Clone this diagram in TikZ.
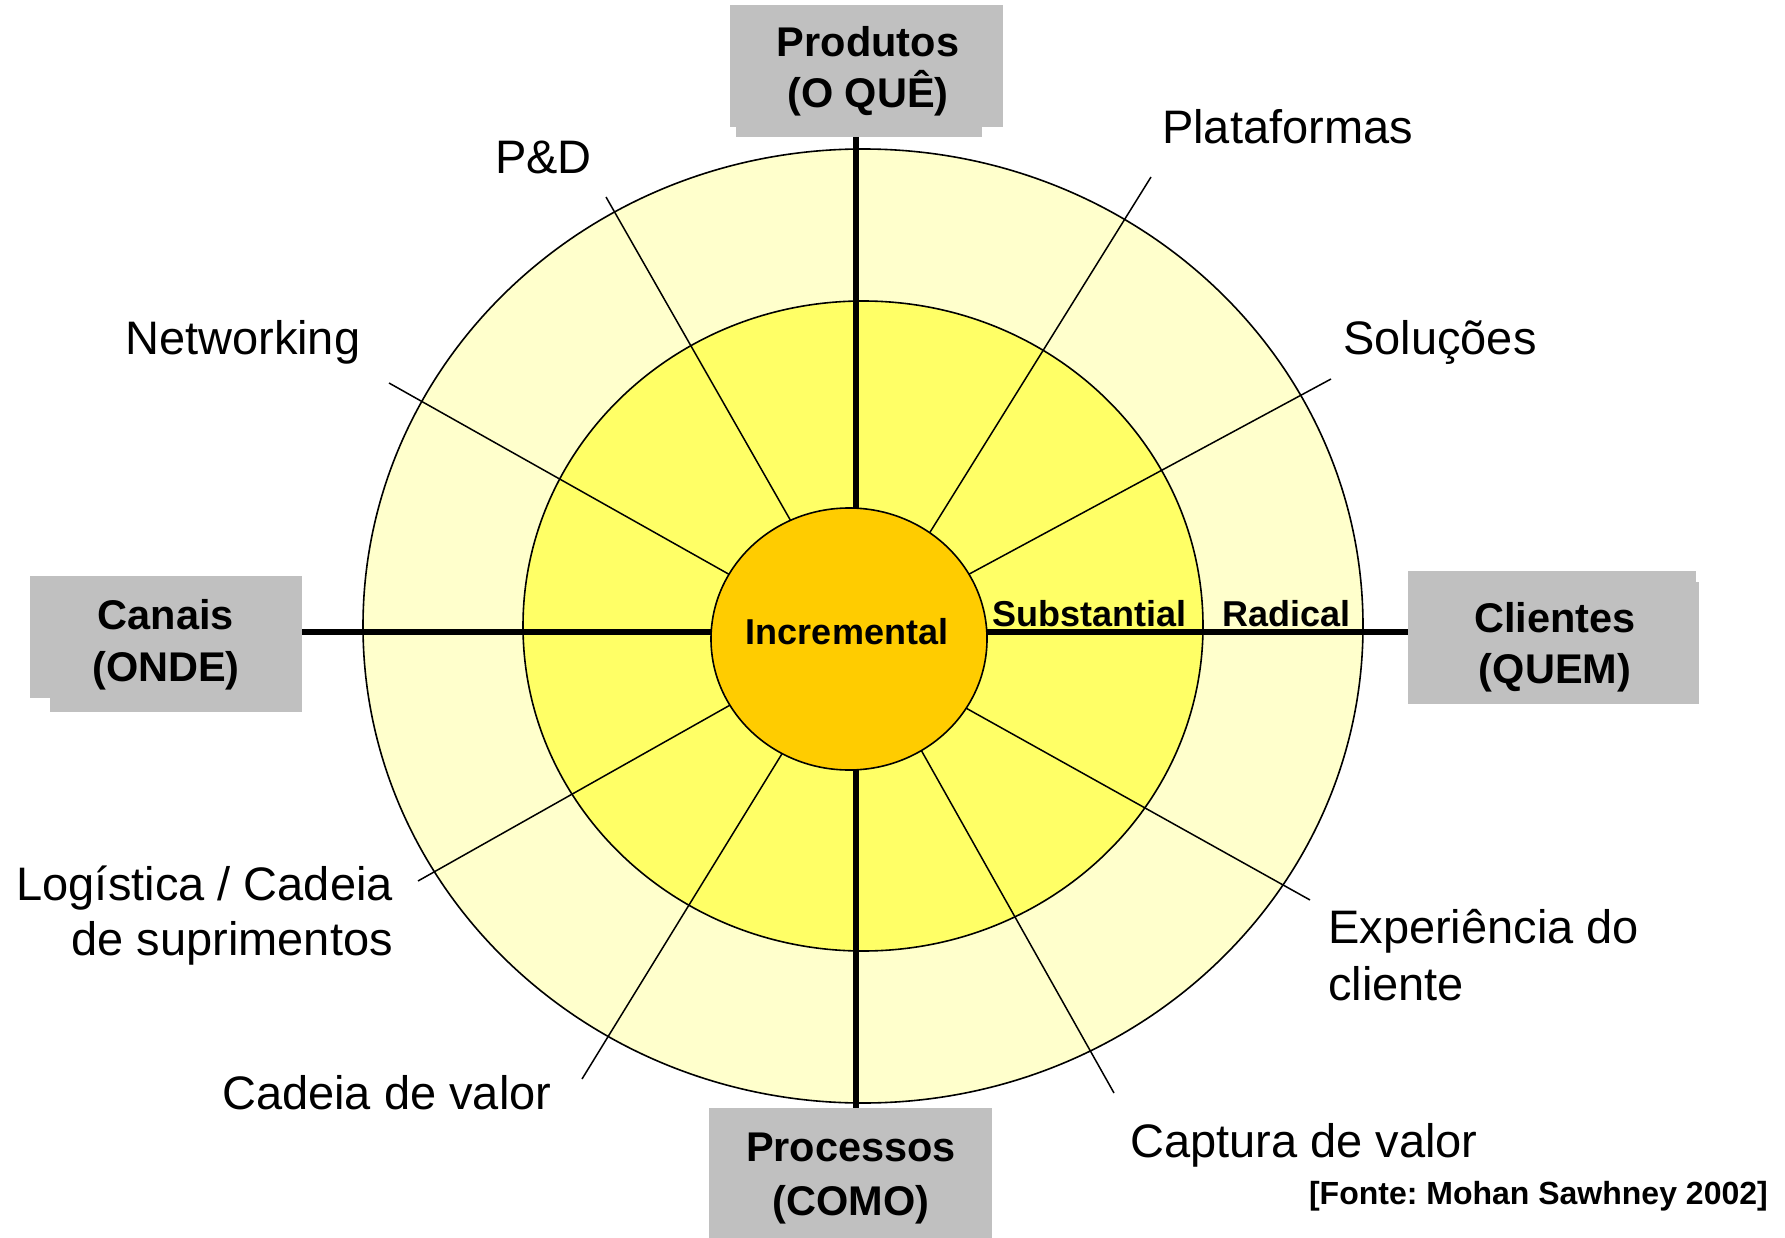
\documentclass[tikz,border=0pt]{standalone}
\usepackage{fontspec}
\setmainfont{Liberation Sans}
\usetikzlibrary{shapes.geometric,calc}
\frenchspacing
\definecolor{ringout}{HTML}{FFFFCC}
\definecolor{ringmid}{HTML}{FFFF66}
\definecolor{coreor}{HTML}{FFCC00}
\definecolor{boxgray}{HTML}{C0C0C0}
\tikzset{
  ringline/.style={draw=black, line width=1.6pt},
  spoke/.style={draw=black, line width=1.5pt},
  axisline/.style={draw=black, line width=5.5pt},
  boxfill/.style={fill=boxgray, draw=none, inner sep=0pt, anchor=north west},
  head/.style={font=\fontsize{41.5}{50}\selectfont\bfseries, inner sep=0pt, anchor=base},
  lab/.style={font=\fontsize{47}{56}\selectfont, inner sep=0pt},
  lvl/.style={font=\fontsize{36}{43}\selectfont\bfseries, inner sep=0pt},
  src/.style={font=\fontsize{32}{38}\selectfont\bfseries, inner sep=0pt, anchor=base east}
}
\begin{document}
\begin{tikzpicture}[x=1pt,y=-1pt]
\useasboundingbox[fill=white] (0,0) rectangle (1785,1238);

% rings
\draw[ringline, fill=ringout] (863,626) ellipse [x radius=500pt, y radius=477pt];
\draw[ringline, fill=ringmid] (863,626) ellipse [x radius=340pt, y radius=325pt];

% thin spokes (outer free end, inner end under the core)
\coordinate (pdO) at (606,197);   \coordinate (pdI) at (792,523);
\coordinate (plO) at (1151,177);  \coordinate (plI) at (932,529);
\coordinate (soO) at (1331,379);  \coordinate (soI) at (973,572);
\coordinate (nwO) at (389,383);   \coordinate (nwI) at (732,576);
\coordinate (lgO) at (418,881);   \coordinate (lgI) at (732,704);
\coordinate (exO) at (1310,900);  \coordinate (exI) at (973,712);
\coordinate (cvO) at (582,1079);  \coordinate (cvI) at (780,757);
\coordinate (cpO) at (1114,1093); \coordinate (cpI) at (925,757);
\foreach \s in {pd,pl,so,nw,lg,ex,cv,cp}{
  \draw[spoke] (\s O) -- ($(\s I)!-35pt!(\s O)$);
}

% boxes (shadow + main)
\fill[boxgray] (736,20) rectangle (982,137);
\node[boxfill, minimum width=273pt, minimum height=122pt] (prodbox) at (730,5) {};
\fill[boxgray] (50,590) rectangle (302,712);
\node[boxfill, minimum width=272pt, minimum height=122pt] (canbox) at (30,576) {};
\fill[boxgray] (1420,582) rectangle (1699,704);
\node[boxfill, minimum width=288pt, minimum height=133pt] (clibox) at (1408,571) {};
\node[boxfill, minimum width=283pt, minimum height=130pt] (procbox) at (709,1108) {};

% axes
\coordinate (atop) at (856,137);
\coordinate (abot) at (856,1108);
\coordinate (aleft) at (302,632);
\coordinate (aright) at (1408,632);
\draw[axisline] (atop) -- (abot);
\draw[axisline] (aleft) -- (aright);

% core
\node[ellipse, draw=black, line width=1.6pt, fill=coreor, minimum width=276pt, minimum height=262pt, inner sep=0pt] (core) at (849,639) {};

% level labels
\node[lvl, anchor=base] (incr) at (847,644) {Incremental};
\node[lvl, anchor=base west] (subst) at (992,626) {Substantial};
\node[lvl, anchor=base west] (radic) at (1222,626) {Radical};

% box headings
\node[head] (prodA) at (868,57) {Produtos};
\node[head] (prodB) at (868,108) {(O QUÊ)};
\node[head] (canA) at (166,629) {Canais};
\node[head] (canB) at (166,681) {(ONDE)};
\node[head] (cliA) at (1555,632) {Clientes};
\node[head] (cliB) at (1555,683) {(QUEM)};
\node[head] (procA) at (851,1161) {Processos};
\node[head] (procB) at (851,1215) {(COMO)};

% spoke labels
\node[lab, anchor=base west] (lpd) at (495,174) {P\&D};
\node[lab, anchor=base west] (lpl) at (1162,144) {Plataformas};
\node[lab, anchor=base west] (lnw) at (125,355) {Networking};
\node[lab, anchor=base west] (lso) at (1343,355) {Soluções};
\node[lab, anchor=base east] (llgA) at (393,900) {Logística / Cadeia};
\node[lab, anchor=base east] (llgB) at (393,955) {de suprimentos};
\node[lab, anchor=base west] (lexA) at (1328,943) {Experiência do};
\node[lab, anchor=base west] (lexB) at (1328,1000) {cliente};
\node[lab, anchor=base west] (lcv) at (222,1109) {Cadeia de valor};
\node[lab, anchor=base west] (lcp) at (1130,1157) {Captura de valor};

% source
\node[src] (fonte) at (1768,1204) {[Fonte: Mohan Sawhney 2002]};
\end{tikzpicture}
\end{document}
